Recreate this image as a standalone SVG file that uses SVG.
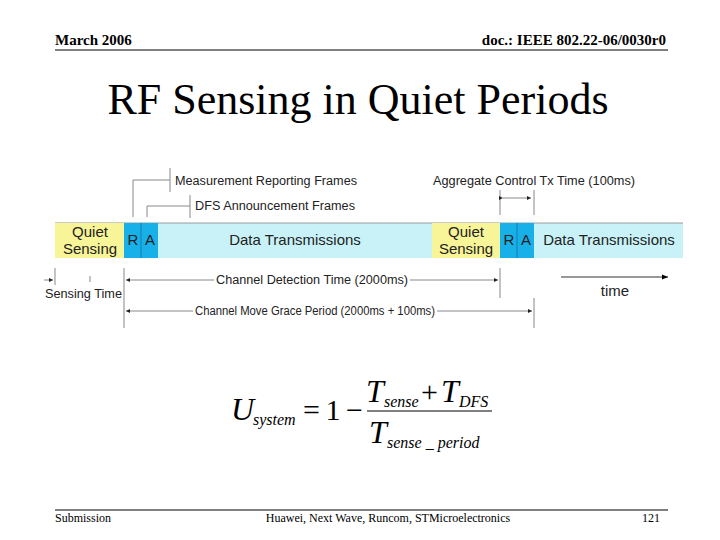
<svg xmlns="http://www.w3.org/2000/svg" width="720" height="540" viewBox="0 0 720 540">
<style>
.h{font-family:"Liberation Serif",serif;font-weight:bold;font-size:15px}
.f{font-family:"Liberation Serif",serif;font-size:12px}
.s{font-family:"Liberation Sans",sans-serif;font-size:12px;fill:#222}
.b{font-family:"Liberation Sans",sans-serif;font-size:15px;fill:#222}
.l{stroke:#888;stroke-width:1;fill:none}
.m{font-family:"Liberation Serif",serif;font-style:italic}
</style>
<defs><marker id="a" viewBox="0 0 10 10" refX="10" refY="5" markerWidth="4" markerHeight="4" orient="auto"><path d="M0,0L10,5L0,10z" fill="#222"/></marker>
<marker id="t" viewBox="0 0 10 10" refX="10" refY="5" markerWidth="6" markerHeight="6" orient="auto"><path d="M0,1L10,5L0,9z" fill="#000"/></marker></defs>
<rect width="720" height="540" fill="#fff"/>
<text class="h" x="55" y="45">March 2006</text>
<text class="h" x="666" y="45" text-anchor="end">doc.: IEEE 802.22-06/0030r0</text>
<line x1="55" y1="50" x2="668" y2="50" stroke="#000"/>
<text x="358" y="114" text-anchor="middle" font-family="Liberation Serif,serif" font-size="44">RF Sensing in Quiet Periods</text>
<g id="bar">
<rect x="55" y="223" width="628" height="35" fill="#c8f2f8"/>
<line x1="55" y1="223" x2="683" y2="223" stroke="#999"/>
<rect x="55" y="223" width="69" height="35" fill="#f8f498"/>
<rect x="432" y="223" width="68" height="35" fill="#f8f498"/>
<rect x="124" y="223" width="34" height="35" fill="#18b0e8"/>
<rect x="500" y="223" width="34" height="35" fill="#18b0e8"/>
<line x1="141" y1="223" x2="141" y2="258" stroke="#1080b0"/>
<line x1="517" y1="223" x2="517" y2="258" stroke="#1080b0"/>
<text class="b" x="90" y="237" text-anchor="middle">Quiet</text>
<text class="b" x="90" y="254" text-anchor="middle">Sensing</text>
<text class="b" x="466" y="237" text-anchor="middle">Quiet</text>
<text class="b" x="466" y="254" text-anchor="middle">Sensing</text>
<text class="b" x="133" y="245" text-anchor="middle">R</text>
<text class="b" x="150" y="245" text-anchor="middle">A</text>
<text class="b" x="509" y="245" text-anchor="middle">R</text>
<text class="b" x="526" y="245" text-anchor="middle">A</text>
<text class="b" x="295" y="245" text-anchor="middle">Data Transmissions</text>
<text class="b" x="609" y="245" text-anchor="middle">Data Transmissions</text>
</g>
<g id="connectors">
<path class="l" d="M133,217V180H170M170,168V192M147,217V206H190M190,195V218M500,190V215M534,190V215M124,268V328M500,268V298M534,298V328M55,268V285M90,276V282"/>
<line x1="503" y1="198" x2="531" y2="198" stroke="#888" marker-start="url(#a)" marker-end="url(#a)"/>
<line x1="214" y1="280" x2="126" y2="280" stroke="#888" marker-end="url(#a)"/>
<line x1="410" y1="280" x2="498" y2="280" stroke="#888" marker-end="url(#a)"/>
<line x1="193" y1="311" x2="126" y2="311" stroke="#888" marker-end="url(#a)"/>
<line x1="437" y1="311" x2="532" y2="311" stroke="#888" marker-end="url(#a)"/>
<line x1="44" y1="280" x2="53" y2="280" stroke="#888" marker-end="url(#a)"/>
<line x1="561" y1="277" x2="668" y2="277" stroke="#333" marker-end="url(#t)"/>
</g>
<text class="s" x="175" y="185" textLength="182" lengthAdjust="spacingAndGlyphs">Measurement Reporting Frames</text>
<text class="s" x="195" y="210" textLength="160" lengthAdjust="spacingAndGlyphs">DFS Announcement Frames</text>
<text class="s" x="433" y="185" textLength="202" lengthAdjust="spacingAndGlyphs">Aggregate Control Tx Time (100ms)</text>
<text class="s" x="216" y="284" textLength="192" lengthAdjust="spacingAndGlyphs">Channel Detection Time (2000ms)</text>
<text class="s" x="195" y="315" textLength="240" lengthAdjust="spacingAndGlyphs">Channel Move Grace Period (2000ms + 100ms)</text>
<text class="s" x="45" y="298" textLength="77" lengthAdjust="spacingAndGlyphs">Sensing Time</text>
<text class="b" x="615" y="296" text-anchor="middle">time</text>
<g id="formula">
<text class="m" x="231" y="420" font-size="32">U</text>
<text class="m" x="253" y="425" font-size="16">system</text>
<text x="303" y="420" font-size="30" font-family="Liberation Serif,serif" textLength="60">=1−</text>
<line x1="367" y1="411" x2="492" y2="411" stroke="#000" stroke-width="1.2"/>
<text class="m" x="366" y="402" font-size="32">T</text>
<text class="m" x="384" y="407" font-size="16">sense</text>
<text x="421" y="402" font-size="30" font-family="Liberation Serif,serif">+</text>
<text class="m" x="441" y="402" font-size="32">T</text>
<text class="m" x="459" y="407" font-size="16">DFS</text>
<text class="m" x="369" y="443" font-size="32">T</text>
<text class="m" x="387" y="448" font-size="16">sense _ period</text>
</g>
<line x1="55" y1="510" x2="668" y2="510" stroke="#000"/>
<text class="f" x="55" y="522">Submission</text>
<text class="f" x="388" y="522" text-anchor="middle">Huawei, Next Wave, Runcom, STMicroelectronics</text>
<text class="f" x="660" y="522" text-anchor="end">121</text>
</svg>
